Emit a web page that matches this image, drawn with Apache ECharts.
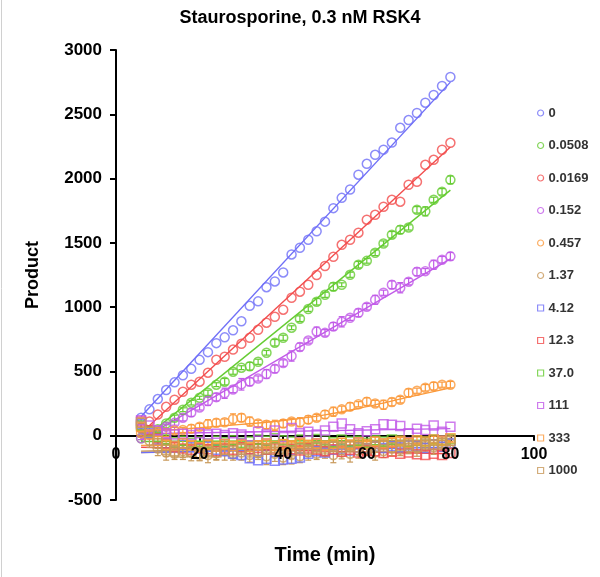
<!DOCTYPE html>
<html><head><meta charset="utf-8">
<script src="https://cdn.jsdelivr.net/npm/echarts@6/dist/echarts.min.js"></script>
<style>html,body{margin:0;padding:0;background:#fff}#c{width:600px;height:577px}</style>
</head><body><div id="c"></div>
<script>
// ---- data ----
const times = [6,8,10,12,14,16,18,20,22,24,26,28,30,32,34,36,38,40,42,44,46,48,50,52,54,56,58,60,62,64,66,68,70,72,74,76,78,80];
const xTicks = [0,20,40,60,80,100];
const yTicks = [-500,0,500,1000,1500,2000,2500,3000];

const seriesNames = ['0','0.0508','0.0169','0.152','0.457','1.37','4.12','12.3','37.0','111','333','1000'];

const v_0      = [140,205,285,355,415,470,520,590,650,720,765,820,890,1010,1045,1155,1200,1270,1410,1462,1524,1590,1665,1770,1850,1915,2030,2115,2185,2225,2280,2395,2455,2510,2590,2650,2720,2790];
const v_0508   = [-20,15,50,95,140,202,257,295,334,397,420,498,529,540,575,645,723,762,840,910,985,1042,1096,1159,1174,1252,1330,1360,1423,1495,1563,1602,1620,1757,1745,1835,1897,1990];
const v_0169   = [60,110,165,225,280,342,397,420,490,591,614,670,715,762,824,879,925,980,1073,1120,1174,1250,1320,1392,1485,1524,1579,1680,1718,1781,1835,1820,1952,1975,2107,2146,2224,2278];
const v_152    = [-20,10,40,70,100,140,180,220,270,300,330,360,400,420,445,480,520,565,620,690,740,810,800,850,886,917,956,1003,1057,1112,1174,1151,1198,1275,1280,1330,1369,1395];
const v_457    = [20,10,30,25,40,45,55,70,90,100,105,130,140,110,95,85,80,95,110,105,125,140,165,187,205,226,245,265,250,241,262,280,334,350,373,385,397,397];
const v_137    = [60,-40,-100,-130,-140,-120,-130,-140,-150,-135,-120,-145,-130,-150,-120,-160,-140,-170,-150,-160,-130,-140,-120,-150,-130,-140,-120,-110,-130,-120,-100,-110,-90,-100,-80,-90,-70,-60];
const v_412    = [90,20,-30,-60,-80,-70,-90,-100,-85,-110,-120,-140,-150,-175,-190,-180,-195,-185,-180,-170,-140,-120,-130,-110,-100,-115,-90,-100,-85,-95,-80,-90,-75,-80,-95,-70,-85,-60];
const v_123    = [110,40,-20,-60,-90,-100,-110,-95,-105,-120,-100,-110,-90,-105,-95,-110,-100,-120,-105,-115,-100,-110,-120,-105,-125,-110,-130,-115,-120,-135,-125,-140,-130,-145,-150,-140,-150,-135];
const v_370    = [80,30,-10,-30,-50,-40,-55,-45,-60,-40,-50,-35,-55,-45,-30,-40,-20,-35,-45,-30,-40,-25,-35,-50,-30,-45,-40,-55,-35,-45,-30,-40,-50,-35,-45,-30,-40,-25];
const v_111    = [120,80,40,20,10,15,5,20,10,15,5,20,10,-5,30,10,40,-10,60,20,30,10,40,70,95,50,20,35,50,90,85,75,20,55,45,80,30,70];
const v_333    = [70,10,-40,-70,-80,-60,-75,-90,-70,-85,-65,-80,-70,-90,-75,-60,-80,-65,-75,-55,-70,-60,-80,-65,-55,-70,-50,-65,-45,-60,-50,-40,-55,-35,-45,-30,-40,-20];
const v_1000   = [100,30,-60,-110,-120,-130,-125,-140,-120,-130,-110,-120,-100,-115,-125,-105,-95,-110,-120,-100,-110,-90,-100,-85,-95,-80,-90,-100,-85,-75,-90,-80,-70,-85,-60,-70,-55,-40];

// error bar half-widths (null = none drawn)
const e_0508 = [10,12,15,10,20,15,18,12,20,15,25,20,15,30,20,18,25,20,15,22,18,25,20,30,15,20,25,18,22,20,25,30,20,25,35,20,25,30];
const e_152  = [10,15,12,20,18,25,30,20,35,30,40,25,45,30,20,35,30,25,40,30,20,35,25,30,40,20,30,25,35,20,30,40,25,30,20,35,25,30];
const e_457  = [20,25,20,30,25,20,30,25,35,30,25,40,30,35,25,30,40,30,25,35,30,25,30,35,25,30,20,30,25,35,30,25,30,20,25,30,20,25];
const e_137  = [40,50,55,60,45,50,65,55,60,50,70,45,60,55,50,65,60,55,70,50,60,45,55,60,50,65,55,45,60,50,55,45,50,60,45,55,50,40];
const e_333  = [25,30,35,30,25,40,30,35,30,25,35,30,40,30,35,25,30,35,30,25,30,35,25,30,35,30,25,30,35,25,30,25,30,25,30,25,30,25];
const e_1000 = [35,45,40,50,45,55,40,50,45,60,40,55,45,50,60,40,50,45,55,40,50,45,60,40,50,45,55,40,45,50,40,45,55,40,45,40,50,35];

// fitted curves [time, value]
const fit_0    = [[6,150],[80,2750]];
const fit_0508 = [[6,-40],[80,1910]];
const fit_0169 = [[6,20],[80,2245]];
const fit_152  = [[6,-30],[80,1375]];
const fit_457  = [[6,30],[20,62],[30,88],[40,118],[50,162],[60,226],[70,300],[80,372]];
const fit_137  = [[6,-130],[80,-70]];
const fit_412  = [[6,-130],[80,-90]];
const fit_123  = [[6,-90],[80,-140]];
const fit_370  = [[6,-45],[80,-35]];
const fit_111  = [[6,15],[80,55]];
const fit_333  = [[6,-75],[80,-35]];
const fit_1000 = [[6,-120],[80,-55]];

const seriesValues = [v_0,v_0508,v_0169,v_152,v_457,v_137,v_412,v_123,v_370,v_111,v_333,v_1000];
const seriesErrors = [null,e_0508,null,e_152,e_457,e_137,null,null,null,null,e_333,e_1000];
const seriesFits   = [fit_0,fit_0508,fit_0169,fit_152,fit_457,fit_137,fit_412,fit_123,fit_370,fit_111,fit_333,fit_1000];

// ---- styles ----
const seriesColors  = ['#6f6ff7','#66cc33','#f24d4d','#c25be8','#fb9a3c','#c8995a','#6f6ff7','#f24d4d','#66cc33','#c25be8','#fb9a3c','#c8995a'];
const seriesSymbols = ['circle','circle','circle','circle','circle','circle','rect','rect','rect','rect','rect','rect'];
const FONT = 'Liberation Sans, Arial, sans-serif';

const series = [];
seriesNames.forEach((n,i)=>{
  series.push({
    type:'line', name:n+'_fit', data:seriesFits[i], showSymbol:false, silent:true,
    smooth: seriesFits[i].length>2 ? 0.4 : false,
    lineStyle:{color:seriesColors[i], width:1.4}, z:2
  });
});
seriesNames.forEach((n,i)=>{
  const e = seriesErrors[i];
  if(!e) return;
  const col = seriesColors[i];
  series.push({
    type:'custom', name:n+'_err', silent:true, z:3,
    data: times.map((t,k)=>[t, seriesValues[i][k]-e[k], seriesValues[i][k]+e[k]]),
    encode:{x:0,y:[1,2]},
    renderItem:(params,api)=>{
      const x=api.value(0);
      const p1=api.coord([x,api.value(1)]), p2=api.coord([x,api.value(2)]);
      const w=3, st={stroke:col,lineWidth:1.2,fill:null};
      return {type:'group',children:[
        {type:'line',shape:{x1:p1[0],y1:p1[1],x2:p2[0],y2:p2[1]},style:st},
        {type:'line',shape:{x1:p1[0]-w,y1:p1[1],x2:p1[0]+w,y2:p1[1]},style:st},
        {type:'line',shape:{x1:p2[0]-w,y1:p2[1],x2:p2[0]+w,y2:p2[1]},style:st}
      ]};
    }
  });
});
seriesNames.forEach((n,i)=>{
  series.push({
    type:'scatter', name:n, data:times.map((t,k)=>[t,seriesValues[i][k]]),
    symbol:seriesSymbols[i], symbolSize:9, z:4,
    itemStyle:{color:'rgba(255,255,255,0)', borderColor:seriesColors[i], borderWidth:1.5}
  });
});

const chart = echarts.init(document.getElementById('c'), null, {renderer:'canvas'});
const labelText = {color:'#000', fontWeight:'bold', fontSize:16, fontFamily:FONT, formatter:v=>String(v)};
chart.setOption({
  animation:false,
  backgroundColor:'#fff',
  title:{text:'Staurosporine, 0.3 nM RSK4', left:'center', top:4,
    textStyle:{color:'#000', fontWeight:'bold', fontSize:18, fontFamily:FONT}},
  grid:[
    {left:116, right:66, top:50, bottom:77, containLabel:false, outerBoundsMode:'none'},
    {left:116, right:66, top:50, bottom:141, containLabel:false, outerBoundsMode:'none'}
  ],
  xAxis:[
    {type:'value', gridIndex:0, min:xTicks[0], max:xTicks[xTicks.length-1], interval:20,
      axisLine:{onZero:true, lineStyle:{color:'#000', width:2}},
      axisTick:{show:true, inside:false, length:5, lineStyle:{color:'#000', width:2}},
      axisLabel:{show:false},
      splitLine:{show:false}},
    {type:'value', gridIndex:1, min:xTicks[0], max:xTicks[xTicks.length-1], interval:20, z:20,
      name:'Time (min)', nameLocation:'middle', nameGap:109,
      nameTextStyle:{color:'#000', fontWeight:'bold', fontSize:20, fontFamily:FONT},
      axisLine:{show:false}, axisTick:{show:false},
      axisLabel:{...labelText, margin:11},
      splitLine:{show:false}}
  ],
  yAxis:[
    {type:'value', gridIndex:0, min:yTicks[0], max:yTicks[yTicks.length-1], interval:500,
      name:'Product', nameLocation:'middle', nameGap:74, nameRotate:90,
      nameTextStyle:{color:'#000', fontWeight:'bold', fontSize:18, fontFamily:FONT},
      axisLine:{show:true, onZero:false, lineStyle:{color:'#000', width:2}},
      axisTick:{show:true, inside:false, length:6, lineStyle:{color:'#000', width:2}},
      axisLabel:{...labelText, fontSize:17, margin:14},
      splitLine:{show:false}},
    {type:'value', gridIndex:1, min:0, max:1, show:false}
  ],
  legend:{data:seriesNames.map((n,i)=>({name:n, icon:seriesSymbols[i],
      itemStyle:{color:'rgba(255,255,255,0)', borderColor:seriesColors[i], borderWidth:1.2}})),
    orient:'vertical', left:537, top:106, padding:0,
    itemWidth:6, itemHeight:6, itemGap:18.5,
    textStyle:{color:'#333', fontWeight:'bold', fontSize:13, lineHeight:14, fontFamily:FONT}},
  graphic:[{type:'line', shape:{x1:1.5,y1:0,x2:1.5,y2:577}, style:{stroke:'#d0d0d0', lineWidth:1}}],
  series
});
</script></body></html>
